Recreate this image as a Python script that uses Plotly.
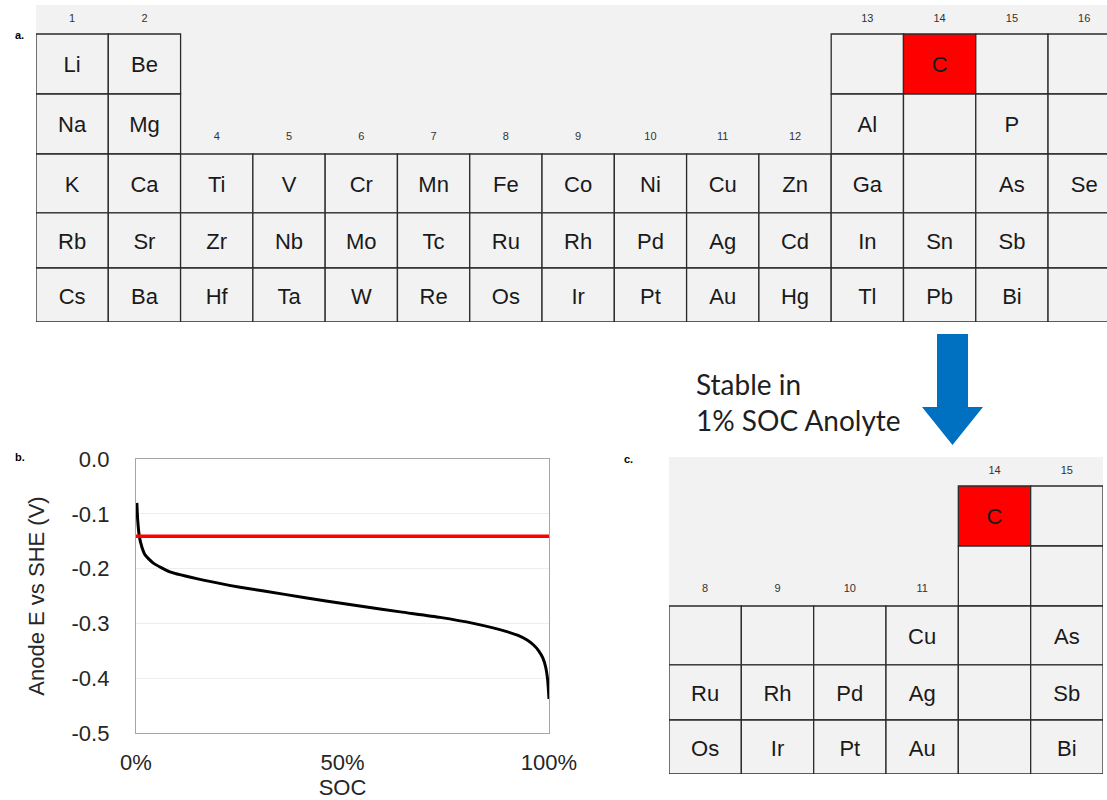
import plotly.graph_objects as go

# ---------------- data ----------------
# Panel a: screened elements (symbol, group, period); "" = empty bordered cell
a_symbols = ["Li", "Be", "", "C", "", "",
             "Na", "Mg", "Al", "", "P", "",
             "K", "Ca", "Ti", "V", "Cr", "Mn", "Fe", "Co", "Ni", "Cu", "Zn", "Ga", "", "As", "Se",
             "Rb", "Sr", "Zr", "Nb", "Mo", "Tc", "Ru", "Rh", "Pd", "Ag", "Cd", "In", "Sn", "Sb", "",
             "Cs", "Ba", "Hf", "Ta", "W", "Re", "Os", "Ir", "Pt", "Au", "Hg", "Tl", "Pb", "Bi", ""]
a_groups = [1, 2, 13, 14, 15, 16,
            1, 2, 13, 14, 15, 16,
            1, 2, 4, 5, 6, 7, 8, 9, 10, 11, 12, 13, 14, 15, 16,
            1, 2, 4, 5, 6, 7, 8, 9, 10, 11, 12, 13, 14, 15, 16,
            1, 2, 4, 5, 6, 7, 8, 9, 10, 11, 12, 13, 14, 15, 16]
a_periods = [2] * 6 + [3] * 6 + [4] * 15 + [5] * 15 + [6] * 15
a_columns = [1, 2, 4, 5, 6, 7, 8, 9, 10, 11, 12, 13, 14, 15, 16]
a_top_labels = [1, 2, 13, 14, 15, 16]
a_mid_labels = [4, 5, 6, 7, 8, 9, 10, 11, 12]

# Panel c: elements stable in 1% SOC anolyte
c_symbols = ["C", "",
             "", "",
             "", "", "", "Cu", "", "As",
             "Ru", "Rh", "Pd", "Ag", "", "Sb",
             "Os", "Ir", "Pt", "Au", "", "Bi"]
c_groups = [14, 15,
            14, 15,
            8, 9, 10, 11, 14, 15,
            8, 9, 10, 11, 14, 15,
            8, 9, 10, 11, 14, 15]
c_periods = [2] * 2 + [3] * 2 + [4] * 6 + [5] * 6 + [6] * 6
c_columns = [8, 9, 10, 11, 14, 15]
c_top_labels = [14, 15]
c_mid_labels = [8, 9, 10, 11]

highlight = ["C"]

# Panel b: anode potential vs state of charge
soc = [0.002, 0.004, 0.008, 0.014, 0.022, 0.042, 0.082, 0.163, 0.252, 0.36,
       0.46, 0.55, 0.64, 0.736, 0.817, 0.898, 0.925, 0.946, 0.962, 0.975,
       0.985, 0.992, 0.997, 1.0]
anode_e = [-0.080, -0.110, -0.141, -0.160, -0.175, -0.190, -0.206, -0.221, -0.234, -0.247,
           -0.259, -0.269, -0.279, -0.289, -0.300, -0.315, -0.322, -0.330, -0.339, -0.350,
           -0.363, -0.380, -0.405, -0.438]
threshold_e = -0.141
y_ticks = [0.0, -0.1, -0.2, -0.3, -0.4, -0.5]
y_ticktext = ["0.0", "-0.1", "-0.2", "-0.3", "-0.4", "-0.5"]
x_ticks = [0, 0.5, 1]
x_ticktext = ["0%", "50%", "100%"]

# ---------------- styling ----------------
W, H = 1107, 800
FONT = "Liberation Sans, Arial, sans-serif"
BG = "#f2f2f2"
EDGE = "#2b2b2b"
RED = "#ff0000"
ROW_EDGES = [0, 1, 2, 2.98, 3.9, 4.8]   # period 2..6 row boundaries
TEXT_DROP = 0.05                        # optical centring of symbols in cells


def px_x(v):
    return v / W


def px_y(v):
    return 1 - v / H


fig = go.Figure()
shapes = []


def table(symbols, groups, periods, columns, top_labels, mid_labels, xa, ya):
    shapes.append(dict(type="rect", xref=f"{xa} domain", yref=f"{ya} domain",
                       x0=0, x1=1, y0=0, y1=1, fillcolor=BG,
                       line=dict(width=0), layer="below"))
    cx, cy, txt = [], [], []
    for s, g, p in zip(symbols, groups, periods):
        c = columns.index(g)
        r = p - 2
        shapes.append(dict(type="rect", xref=xa, yref=ya,
                           x0=c, x1=c + 1, y0=ROW_EDGES[r], y1=ROW_EDGES[r + 1],
                           fillcolor=RED if s in highlight else BG,
                           line=dict(color=EDGE, width=1.3), layer="below"))
        cx.append(c + 0.5)
        cy.append((ROW_EDGES[r] + ROW_EDGES[r + 1]) / 2 + TEXT_DROP)
        txt.append(s)
    fig.add_trace(go.Scatter(x=cx, y=cy, text=txt, mode="text", xaxis=xa, yaxis=ya,
                             textfont=dict(family=FONT, size=22, color="#1a1a1a"),
                             textposition="middle center", hoverinfo="skip",
                             showlegend=False))
    lx = [columns.index(g) + 0.5 for g in top_labels] + \
         [columns.index(g) + 0.5 for g in mid_labels]
    ly = [-0.24] * len(top_labels) + [1.72] * len(mid_labels)
    lt = [str(g) for g in top_labels] + [str(g) for g in mid_labels]
    fig.add_trace(go.Scatter(x=lx, y=ly, text=lt, mode="text", xaxis=xa, yaxis=ya,
                             textfont=dict(family=FONT, size=11, color="#333333"),
                             textposition="middle center", hoverinfo="skip",
                             showlegend=False))


table(a_symbols, a_groups, a_periods, a_columns, a_top_labels, a_mid_labels, "x2", "y2")
table(c_symbols, c_groups, c_periods, c_columns, c_top_labels, c_mid_labels, "x3", "y3")

# Panel b traces
fig.add_trace(go.Scatter(x=soc, y=anode_e, mode="lines",
                         line=dict(color="#000000", width=3, shape="spline", smoothing=0.5),
                         showlegend=False, xaxis="x", yaxis="y"))
fig.add_trace(go.Scatter(x=[0, 1], y=[threshold_e, threshold_e], mode="lines",
                         line=dict(color=RED, width=3.3),
                         showlegend=False, xaxis="x", yaxis="y"))

# Down arrow between panels a and c
ax0, ax1 = 937, 968
hx0, hx1, tip_x = 922, 983, 952.5
ay0, ay1, tip_y = 334, 407, 445
arrow = (f"M {px_x(ax0)} {px_y(ay0)} L {px_x(ax1)} {px_y(ay0)} L {px_x(ax1)} {px_y(ay1)} "
         f"L {px_x(hx1)} {px_y(ay1)} L {px_x(tip_x)} {px_y(tip_y)} L {px_x(hx0)} {px_y(ay1)} "
         f"L {px_x(ax0)} {px_y(ay1)} Z")
shapes.append(dict(type="path", xref="paper", yref="paper", path=arrow,
                   fillcolor="#0070c0", line=dict(width=0)))

annotations = [
    dict(text="<b>a.</b>", x=px_x(13), y=px_y(27), xref="paper", yref="paper",
         showarrow=False, font=dict(family=FONT, size=11, color="#000")),
    dict(text="<b>b.</b>", x=px_x(13), y=px_y(457), xref="paper", yref="paper",
         showarrow=False, font=dict(family=FONT, size=11, color="#000")),
    dict(text="<b>c.</b>", x=px_x(629), y=px_y(459), xref="paper", yref="paper",
         showarrow=False, font=dict(family=FONT, size=11, color="#000")),
    dict(text="Stable in<br>1% SOC Anolyte", x=px_x(694), y=px_y(402), xref="paper",
         yref="paper", xanchor="left", yanchor="middle", align="left", showarrow=False,
         font=dict(family="Lato, sans-serif", size=28, color="#1f1f1f")),
]

fig.update_layout(
    width=W, height=H, margin=dict(l=0, r=0, t=0, b=0, pad=0, autoexpand=False),
    paper_bgcolor="white", plot_bgcolor="white",
    font=dict(family=FONT),
    shapes=shapes, annotations=annotations,
    xaxis=dict(domain=[px_x(136), px_x(549)], range=[0, 1], tickvals=x_ticks,
               ticktext=x_ticktext, showgrid=False, zeroline=False, automargin=False,
               showline=True, mirror=True, linecolor="#a6a6a6", linewidth=1.3,
               ticks="", ticklabelstandoff=9,
               tickfont=dict(family=FONT, size=22, color="#262626"),
               title=dict(text="SOC", font=dict(family=FONT, size=22, color="#262626"),
                          standoff=2)),
    yaxis=dict(domain=[px_y(733), px_y(459)], range=[-0.5, 0], tickvals=y_ticks,
               ticktext=y_ticktext, showgrid=True, gridcolor="#ededed", gridwidth=1,
               zeroline=False, showline=True, mirror=True, linecolor="#a6a6a6",
               linewidth=1.3, ticks="", ticklabelstandoff=21, automargin=False,
               tickfont=dict(family=FONT, size=22, color="#262626"),
               title=dict(text="Anode E vs SHE (V)",
                          font=dict(family=FONT, size=22, color="#262626"),
                          standoff=20)),
    xaxis2=dict(domain=[px_x(36), 1], range=[0, (W - 36) / 72.29], anchor="y2",
                visible=False, fixedrange=True, automargin=False),
    yaxis2=dict(domain=[px_y(322), px_y(5)], range=[ROW_EDGES[-1], -0.483], anchor="x2",
                visible=False, fixedrange=True, automargin=False),
    xaxis3=dict(domain=[px_x(669), px_x(1103)], range=[0, 6], anchor="y3",
                visible=False, fixedrange=True, automargin=False),
    yaxis3=dict(domain=[px_y(774), px_y(457)], range=[ROW_EDGES[-1], -0.483], anchor="x3",
                visible=False, fixedrange=True, automargin=False),
)

fig.write_html("out.html")
